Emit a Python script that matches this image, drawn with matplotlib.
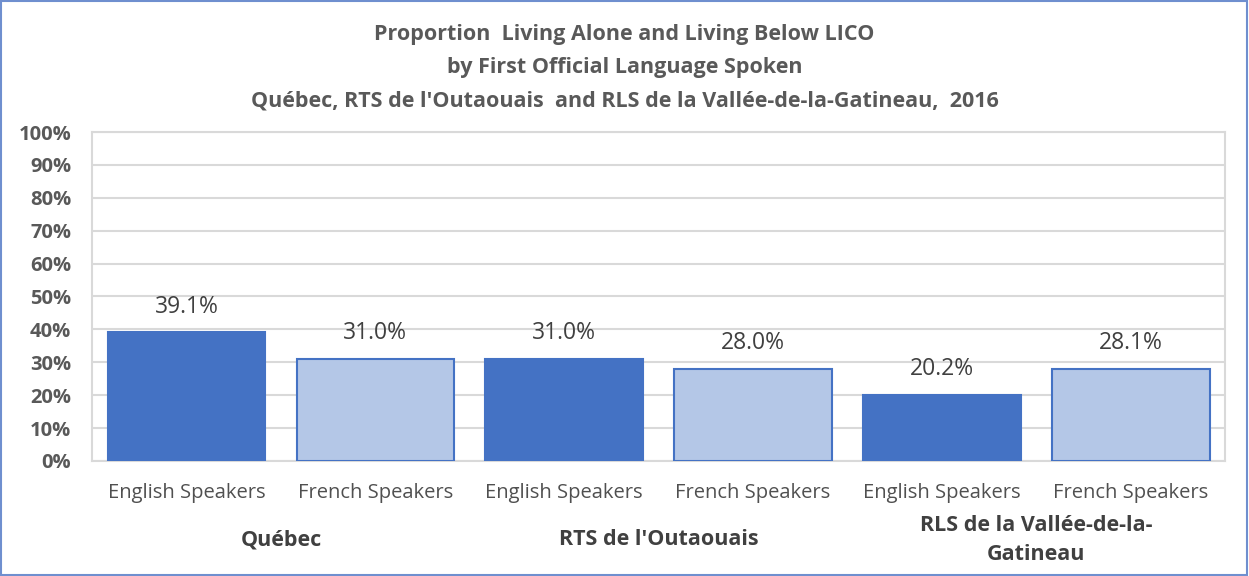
import numpy as np
import matplotlib.pyplot as plt
from matplotlib.patches import Rectangle

groups = ['Québec', "RTS de l'Outaouais", 'RLS de la Vallée-de-la-\nGatineau']
speakers = ['English Speakers', 'French Speakers']
values = [39.1, 31.0, 31.0, 28.0, 20.2, 28.1]

dark = '#4472C4'
light = '#B4C7E7'
txt = '#595959'

plt.rcParams['font.family'] = ['Open Sans', 'DejaVu Sans']

fig = plt.figure(figsize=(12.49, 5.76), dpi=100)
ax = fig.add_axes([0.0737, 0.1997, 0.9073, 0.5711])

x = np.arange(len(values))
cols = [dark if i % 2 == 0 else light for i in range(len(values))]
bars = ax.bar(x, values, width=0.835, color=cols, edgecolor=dark, linewidth=1.5, zorder=3)
for b, v in zip(bars, values):
    ax.text(b.get_x() + b.get_width() / 2, v + 7.8, '%.1f%%' % v, ha='center', va='center',
            fontsize=16.5, color='#404040', zorder=4)

ax.set_xlim(-0.5, len(values) - 0.5)
ax.set_ylim(0, 100)
ax.set_yticks(np.arange(0, 101, 10))
ax.set_yticklabels(['%d%%' % t for t in range(0, 101, 10)], fontsize=14.5, fontweight='bold', color=txt)
ax.set_xticks(x)
ax.set_xticklabels([speakers[i % 2] for i in range(len(values))], fontsize=14.5, color='#505050')
ax.tick_params(axis='both', length=0)
ax.tick_params(axis='x', pad=16)
ax.tick_params(axis='y', pad=15)
ax.grid(axis='y', color='#D9D9D9', linewidth=1.5, zorder=0)
for s in ax.spines.values():
    s.set_color('#D9D9D9')
    s.set_linewidth(1.5)

for i, g in enumerate(groups):
    ax.text(2 * i + 0.5, -24, g, ha='center', va='center', fontsize=15.5,
            fontweight='bold', color='#404040', linespacing=1.45, clip_on=False)

fig.text(0.5, 0.940, 'Proportion  Living Alone and Living Below LICO', ha='center', va='center',
         fontsize=15.5, fontweight='bold', color=txt)
fig.text(0.5, 0.882, 'by First Official Language Spoken', ha='center', va='center',
         fontsize=15.5, fontweight='bold', color=txt)
fig.text(0.5, 0.824, "Québec, RTS de l'Outaouais  and RLS de la Vallée-de-la-Gatineau,  2016", ha='center',
         va='center', fontsize=15.5, fontweight='bold', color=txt)

fig.patches.append(Rectangle((0.001, 0.002), 0.997, 0.996, transform=fig.transFigure, fill=False,
                             edgecolor='#6F8FCF', linewidth=1.5))

fig.savefig('out.png', dpi=100)
